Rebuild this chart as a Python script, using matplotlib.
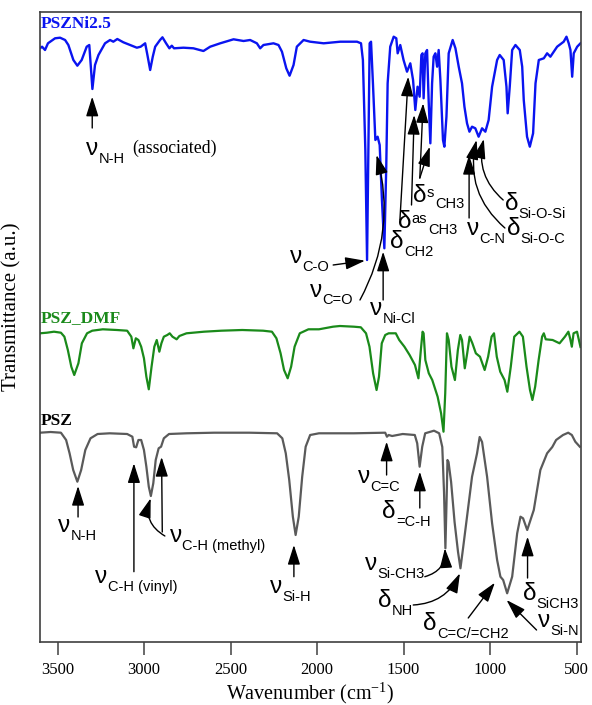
import matplotlib
matplotlib.use('Agg')
import matplotlib.pyplot as plt
import numpy as np

plt.rcParams['font.family'] = 'Liberation Serif'
plt.rcParams['mathtext.fontset'] = 'custom'
plt.rcParams['mathtext.rm'] = 'Liberation Serif'

#########################################################################
## spectra: wavenumber (cm-1) / transmittance (a.u., offset)

# PSZNi2.5 (blue, top)
wn_ni = [3602, 3590, 3573, 3556, 3515, 3486, 3457, 3438, 3409, 3386, 3361, 3332, 3317, 3309, 3299,
         3284, 3264, 3226, 3197, 3178, 3155, 3120, 3081, 3042, 3020, 2994, 2981, 2965, 2950, 2936,
         2908, 2894, 2873, 2854, 2840, 2827, 2773, 2715, 2657, 2618, 2560, 2483, 2425, 2387, 2348,
         2329, 2310, 2252, 2223, 2203, 2178, 2159, 2136, 2117, 2078, 2040, 1962, 1866, 1769, 1746,
         1735, 1721, 1711, 1702, 1696, 1688, 1677, 1663, 1650, 1638, 1625, 1611, 1600, 1592, 1577,
         1557, 1542, 1534, 1519, 1500, 1480, 1461, 1445, 1432, 1419, 1407, 1397, 1390, 1384, 1374,
         1364, 1355, 1345, 1335, 1326, 1316, 1306, 1297, 1287, 1272, 1264, 1252, 1239, 1216, 1200,
         1181, 1162, 1148, 1133, 1119, 1104, 1085, 1066, 1046, 1027, 1008, 988, 959, 944, 921,
         905, 898, 886, 872, 853, 828, 814, 805, 786, 770, 751, 737, 718, 689, 670,
         651, 612, 574, 558, 545, 535, 525, 516, 496, 477]
t_ni = [593.7, 595.3, 592, 598.7, 603.7, 604.3, 602, 597, 582, 576.3, 582, 595.3, 597, 577, 553,
        577, 587, 598.7, 602, 600.3, 603, 599.7, 597, 594.3, 595.3, 598.7, 587, 572, 585.3, 595.3,
        602, 604.7, 598.7, 593.7, 596.3, 593.7, 594.3, 593.7, 591, 595.3, 598.7, 602.7, 601, 602, 598.7,
        593.7, 597, 598.7, 597, 590.3, 573.7, 566.3, 577, 595.3, 602, 600.3, 598.7, 600.3, 600.3, 598.7,
        582, 492, 382, 509, 598.7, 600.3, 558.7, 502, 505.3, 497, 442, 393.7, 475.3, 558.7, 595.3,
        605.3, 603.7, 588.7, 597, 582, 570.3, 578.7, 562, 532, 555.3, 545.3, 587, 588.7, 543.7, 588.7,
        592, 542, 498.7, 558.7, 585.3, 588.7, 575.3, 592, 562, 502, 495.3, 525.3, 588.7, 602, 593.7,
        575.3, 558.7, 535.3, 518.7, 510.3, 515.3, 513.7, 505.3, 513.7, 510.3, 522, 555.3, 582, 587, 582,
        555.3, 528.7, 555.3, 592, 597, 592, 575.3, 542, 505.3, 495.3, 508.7, 558.7, 582, 583.7, 588.7,
        585.3, 595.3, 600.3, 605.3, 598.7, 592, 565.3, 588.7, 595.3, 598.7]

# PSZ_DMF (green, middle)
wn_dmf = [3602, 3562, 3521, 3481, 3461, 3441, 3421, 3404, 3380, 3360, 3330, 3300, 3239, 3158, 3098,
          3074, 3062, 3048, 3033, 3017, 3001, 2987, 2973, 2957, 2941, 2927, 2912, 2900, 2886, 2866,
          2852, 2836, 2812, 2796, 2755, 2654, 2554, 2433, 2312, 2261, 2235, 2211, 2191, 2170, 2150,
          2130, 2100, 2050, 1989, 1908, 1868, 1787, 1747, 1717, 1697, 1676, 1656, 1642, 1626, 1606,
          1586, 1545, 1525, 1495, 1465, 1434, 1414, 1400, 1390, 1384, 1374, 1354, 1334, 1303, 1283,
          1269, 1259, 1249, 1239, 1223, 1203, 1186, 1172, 1162, 1146, 1132, 1118, 1102, 1082, 1058,
          1031, 1011, 991, 977, 961, 941, 916, 900, 880, 860, 830, 810, 789, 769, 755,
          739, 719, 699, 689, 678, 638, 598, 567, 547, 537, 527, 517, 497, 477]
t_dmf = [308.7, 309.3, 310.3, 309.3, 305.3, 292, 275.3, 267, 278.7, 298.7, 308.7, 311.3, 312.7, 312, 311.3,
         305.3, 293.7, 303.7, 302, 295.3, 283.7, 265.3, 252.7, 275.3, 295.3, 302, 290.3, 298.7, 305.3, 307,
         308.7, 305.3, 302.7, 306, 308.7, 310.3, 311.3, 312, 311.3, 310.3, 303.7, 288.7, 272, 263.7, 275.3,
         295.3, 308.7, 312.7, 312.7, 315.3, 316, 315.3, 314.7, 308.7, 295.3, 268.7, 252, 265.3, 298.7, 307,
         308.7, 308.7, 302, 295.3, 287, 277, 263.7, 292, 310.3, 308.7, 282, 268.7, 262, 245.3, 228.7,
         210.3, 248.7, 308.7, 302, 275.3, 262, 292, 307, 302, 273.7, 288.7, 305.3, 298.7, 288.7, 285.3,
         272, 285.3, 305.3, 308.7, 285.3, 270.3, 262, 250.3, 275.3, 305.3, 310.3, 305.3, 275.3, 252, 242,
         255.3, 282, 305.3, 308.7, 302.7, 302, 298.7, 305.3, 310.3, 303.7, 295.3, 308.7, 310.3, 295]

# PSZ (gray, bottom)
wn_psz = [3602, 3541, 3481, 3451, 3431, 3410, 3386, 3364, 3340, 3310, 3269, 3199, 3098, 3068, 3058,
          3046, 3033, 3017, 3001, 2987, 2973, 2961, 2947, 2933, 2916, 2902, 2886, 2856, 2755, 2594,
          2392, 2231, 2201, 2181, 2161, 2140, 2124, 2106, 2086, 2066, 2040, 1989, 1788, 1606, 1596,
          1586, 1566, 1505, 1435, 1421, 1407, 1392, 1375, 1324, 1294, 1276, 1266, 1258, 1250, 1246,
          1240, 1225, 1205, 1185, 1171, 1155, 1133, 1104, 1075, 1060, 1046, 1017, 988, 959, 940,
          924, 901, 872, 843, 824, 809, 785, 766, 747, 709, 670, 640, 618, 578, 548,
          527, 507, 481]
t_psz = [209.3, 210, 209.3, 202, 188.7, 172, 160.3, 172, 192, 203.7, 208, 208.7, 208, 205.3, 195.3,
         194.7, 202, 202, 192, 175.3, 155.3, 146, 158.7, 182, 193.7, 195.3, 203.7, 208, 208.7, 209.3,
         209.3, 208.7, 203.7, 188.7, 162, 125.3, 107, 125.3, 165.3, 195.3, 207, 208.7, 208.7, 209.3, 205.3,
         207, 206, 208, 207, 198.7, 175.3, 195.3, 208.7, 211.3, 208.7, 195, 150, 93.7, 150, 182,
         180, 160, 120, 90, 73.7, 95, 125.3, 165.3, 188.7, 205, 200, 165.3, 118.7, 82, 65.3,
         62, 48.7, 65.3, 108.7, 125.3, 123.7, 112, 122, 132, 172, 188.7, 195, 202, 207, 209.3,
         207, 200.3, 195.3]

## band assignments: greek, subscript, label x, label y, raised part, extra text
labels = [
    ('ν', 'N-H', 3336, 487, None, '(associated)'),
    ('ν', 'C-O', 2157, 378.7, None, None),
    ('ν', 'C=O', 2041, 345.3, None, None),
    ('ν', 'Ni-Cl', 1695, 327, None, None),
    ('δ', 'CH2', 1579, 394, None, None),
    ('δ', 'CH3', 1533, 414, 'as', None),
    ('δ', 'CH3', 1446, 440, 's', None),
    ('ν', 'C-N', 1134, 407, None, None),
    ('δ', 'Si-O-C', 903, 407, None, None),
    ('δ', 'Si-O-Si', 914, 432, None, None),
    ('ν', 'N-H', 3498, 110, None, None),
    ('ν', 'C-H (vinyl)', 3284, 59, None, None),
    ('ν', 'C-H (methyl)', 2851, 100, None, None),
    ('ν', 'Si-H', 2273, 49, None, None),
    ('ν', 'C=C', 1764, 159, None, None),
    ('δ', '=C-H', 1625, 124, None, None),
    ('ν', 'Si-CH3', 1723, 72, None, None),
    ('δ', 'NH', 1648, 35, None, None),
    ('δ', 'C=C/=CH2', 1388, 12, None, None),
    ('ν', 'Si-N', 724, 15, None, None),
    ('δ', 'SiCH3', 810, 42, None, None),
]

# arrows: tail, tip, curvature
arrows = [
    ((3300, 514), (3300, 545.3), 0),
    ((1907, 377), (1723, 381.3), 0),
    ((1752, 342), (1656, 487), 0.2),
    ((1618, 342), (1618, 390.3), 0),
    ((1521, 422), (1473, 565.3), 0),
    ((1454, 437), (1438.5, 527), 0),
    ((1406, 464), (1387, 538.7), 0),
    ((1406, 464), (1348, 495.3), 0),
    ((1121, 424), (1121, 487), 0),
    ((914, 414), (1078, 502), -0.3),
    ((924, 442), (1036, 503), -0.3),
    ((3382, 125), (3382, 156), 0),
    ((3059, 70.3), (3059, 178.7), 0),
    ((2895, 110), (2899, 185), 0),
    ((2880, 106), (2962, 143.7), -0.4),
    ((2134, 65.3), (2134, 97), 0),
    ((1598, 167), (1598, 200.3), 0),
    ((1406, 134), (1406, 170.3), 0),
    ((1377, 65.3), (1261, 93.7), 0.4),
    ((1444, 37), (1174, 68.7), 0.3),
    ((1126, 24), (972, 59.3), 0),
    ((731, 12), (904.5, 42), 0),
    ((783, 64), (783, 105.3), 0),
]

#########################################################################
## plot
fig = plt.figure(figsize=(5.92, 7.05), dpi=100)
ax = fig.add_axes([40 / 592, 63 / 705, 541 / 592, 630 / 705])

ax.plot(wn_ni, t_ni, color='#0a14f0', lw=1.7)
ax.plot(wn_dmf, t_dmf, color='#1a8a1a', lw=1.6)
ax.plot(wn_psz, t_psz, color='#5a5a5a', lw=1.6)

ax.text(3600, 614, 'PSZNi2.5', color='#0a14f0', fontsize=12.5, fontweight='bold', va='baseline')
ax.text(3600, 320, 'PSZ_DMF', color='#1a8a1a', fontsize=12.5, fontweight='bold', va='baseline')
ax.text(3600, 217, 'PSZ', color='black', fontsize=12.5, fontweight='bold', va='baseline')

sans = 'Liberation Sans'
for greek, sub, x, y, mid, extra in labels:
    g = ax.annotate(greek, (x, y), fontsize=17.5, family=sans, va='baseline', ha='left')
    if mid:
        m = ax.annotate(mid, xy=(1, y), xycoords=(g, 'data'), xytext=(0.3, 3.6),
                        textcoords='offset points', fontsize=10.5, family=sans, va='baseline')
        s = ax.annotate(sub, xy=(1, y), xycoords=(m, 'data'), xytext=(0.5, -4.2),
                        textcoords='offset points', fontsize=10.5, family=sans, va='baseline')
    else:
        s = ax.annotate(sub, xy=(1, y), xycoords=(g, 'data'), xytext=(0.3, -5.5),
                        textcoords='offset points', fontsize=10.5, family=sans, va='baseline')
    if extra:
        ax.annotate(extra, xy=(1, y), xycoords=(s, 'data'), xytext=(5.5, 1.4),
                    textcoords='offset points', fontsize=12.8, va='baseline')

for tail, tip, rad in arrows:
    ax.annotate('', xy=tip, xytext=tail,
                arrowprops=dict(arrowstyle='-|>,head_length=1.2,head_width=0.38', mutation_scale=10,
                                lw=1, color='black', shrinkA=0, shrinkB=0,
                                connectionstyle='arc3,rad=%s' % rad))

ax.set_xlim(3602, 474)
ax.set_ylim(0, 630)
ax.set_xticks([3500, 3000, 2500, 2000, 1500, 1000, 500])
ax.set_yticks([])
ax.tick_params(axis='x', direction='out', length=9.5, width=1.1, labelsize=12, pad=5, color='#404040')
for sp in ax.spines.values():
    sp.set_color('#404040')
    sp.set_linewidth(1.2)

ax.set_xlabel('Wavenumber (cm$^{\\mathregular{-1}}$)', fontsize=14.5)
ax.xaxis.set_label_coords(0.499, -0.060)
ax.set_ylabel('Transmittance (a.u.)', fontsize=15)
ax.yaxis.set_label_coords(-0.034, 0.532)

plt.savefig('out.png', dpi=100)
